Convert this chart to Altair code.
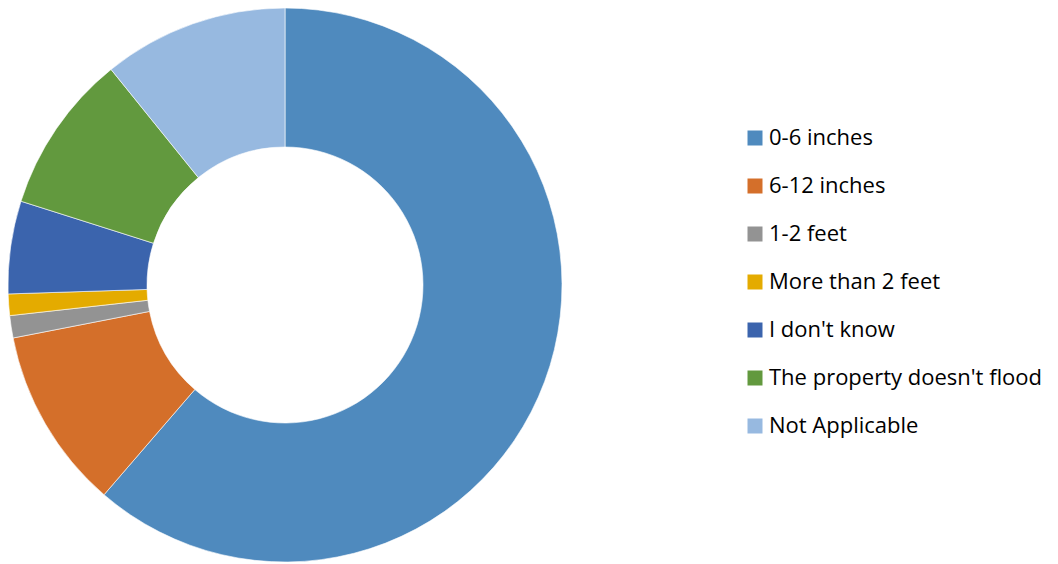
import altair as alt
import pandas as pd

categories = ["0-6 inches", "6-12 inches", "1-2 feet", "More than 2 feet",
              "I don't know", "The property doesn't flood", "Not Applicable"]
percent = [61.3, 10.6, 1.3, 1.25, 5.4, 9.3, 10.8]
colors = ["#4F8ABE", "#D46F2A", "#939393", "#E4AB00", "#3B64AD", "#62993E", "#97B9E0"]

df = pd.DataFrame({"category": categories, "percent": percent,
                   "order": list(range(len(categories)))})

color_scale = alt.Scale(domain=categories, range=colors)

chart = alt.Chart(df).mark_arc(
    outerRadius=277, innerRadius=138, stroke="white", strokeWidth=0.6
).encode(
    theta=alt.Theta("percent:Q", stack=True),
    order=alt.Order("order:Q"),
    color=alt.Color(
        "category:N", scale=color_scale, sort=categories,
        legend=alt.Legend(
            title=None, orient="none", legendX=736, legendY=119,
            symbolType="square", symbolSize=225, symbolStrokeWidth=0,
            labelFont="Open Sans", labelFontSize=22, labelColor="#000000",
            labelOffset=3, rowPadding=26, padding=0, labelLimit=400,
        ),
    ),
    x=alt.value(277),
    y=alt.value(277),
).properties(
    width=1042, height=556, autosize=alt.AutoSizeParams(type="none"), padding=0
).configure_view(stroke=None)

chart.save("out.html", embed_options={"renderer": "svg", "actions": False})
